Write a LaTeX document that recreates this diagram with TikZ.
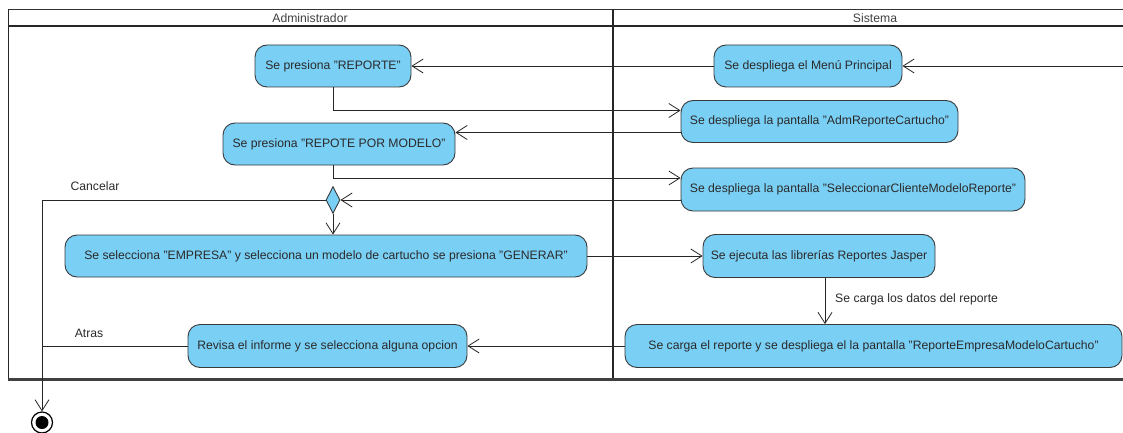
\documentclass[tikz,border=0pt]{standalone}
\usepackage{fontspec}
\setmainfont{Liberation Sans}
\usetikzlibrary{arrows.meta,shapes.geometric,calc}
\definecolor{actfill}{HTML}{7ACFF5}
\definecolor{actline}{HTML}{3A3A3A}
\definecolor{txt}{HTML}{2A2A2A}
\begin{document}
\begin{tikzpicture}[x=1pt,y=-1pt,
  act/.style={draw=actline, fill=actfill, rounded corners=12pt, line width=0.9pt,
    inner sep=0pt, text=txt, font=\fontsize{12.2}{14}\selectfont},
  arr/.style={-{Straight Barb[length=11pt,width=14pt]}, line width=0.8pt, draw=black!85},
  conn/.style={line width=0.8pt, draw=black!85},
  lbl/.style={font=\fontsize{12.2}{14}\selectfont, text=txt, inner sep=0pt},
]
\useasboundingbox (0,0) rectangle (1123,433);

% swimlane frame
\draw[line width=1.5pt, draw=black!80] (8,9.5) -- (1135,9.5);
\draw[line width=2pt, draw=black!85] (8,26.5) -- (1135,26.5);
\draw[line width=1pt, draw=black!85] (8,9.5) -- (8,379.5);
\draw[line width=2pt, draw=black!85] (612.5,9.5) -- (612.5,379.5);
\draw[line width=2.2pt, draw=black!75] (7.5,379.5) -- (1135,379.5);
\node[lbl, text=black!75] (hadm) at (310,18) {Administrador};
\node[lbl, text=black!75] (hsis) at (875,18) {Sistema};

% activities
\node[act, minimum width=156pt, minimum height=42pt] (rep) at (333,66) {Se presiona "REPORTE"};
\node[act, minimum width=188pt, minimum height=42pt] (menu) at (808,66) {Se despliega el Menú Principal};
\node[act, minimum width=277pt, minimum height=42pt] (adm) at (819.5,121.5) {Se despliega la pantalla "AdmReporteCartucho"};
\node[act, minimum width=232pt, minimum height=42pt] (repm) at (339,144) {Se presiona "REPOTE POR MODELO"};
\node[act, minimum width=344pt, minimum height=43pt] (sel) at (853,189.5) {Se despliega la pantalla "SeleccionarClienteModeloReporte"};
\node[diamond, draw=actline, fill=actfill, line width=0.9pt, inner sep=0pt,
      minimum width=14pt, minimum height=27pt] (dia) at (333,200) {};
\node[act, minimum width=522pt, minimum height=42pt] (emp) at (326,256) {Se selecciona "EMPRESA" y selecciona un modelo de cartucho se presiona "GENERAR"};
\node[act, minimum width=232pt, minimum height=43pt] (jas) at (819,256) {Se ejecuta las librerías Reportes Jasper};
\node[act, minimum width=497pt, minimum height=43pt] (carga) at (873.5,346) {Se carga el reporte y se despliega el la pantalla "ReporteEmpresaModeloCartucho"};
\node[act, minimum width=279pt, minimum height=43pt] (rev) at (327.5,346) {Revisa el informe y se selecciona alguna opcion};
\node[circle, draw=black, fill=white, line width=1.2pt, minimum size=21pt, inner sep=0pt] (fin) at (42,422.5) {};
\fill[black] (fin.center) circle (6.5pt);

% connectors
\coordinate (ext) at (1126,66);
\draw[arr] (ext) -- (menu.east);
\draw[arr] (menu.west) -- (rep.east);
\draw[arr] (rep.south) |- ([yshift=11pt]adm.west);
\draw[arr] ([yshift=-11pt]adm.west) -- ([yshift=-11pt]adm.west -| repm.east);
\draw[arr] ([xshift=-6pt]repm.south) |- ([yshift=11.5pt]sel.west);
\draw[arr] ([yshift=-10.5pt]sel.west) -- (dia.east);
\draw[arr] (dia.south) -- (dia.south |- emp.north);
\draw[arr] (dia.west) -| (fin.north);
\node[lbl] (lcan) at (95,186) {Cancelar};
\draw[arr] (emp.east) -- (jas.west);
\draw[arr] ([xshift=6pt]jas.south) -- ([xshift=6pt]jas.south |- carga.north);
\node[lbl, anchor=west] (ldat) at (835,299) {Se carga los datos del reporte};
\draw[arr] (carga.west) -- (rev.east);
\draw[conn] (rev.west) -- (rev.west -| fin.north);
\node[lbl] (latr) at (89,333) {Atras};
\end{tikzpicture}
\end{document}
